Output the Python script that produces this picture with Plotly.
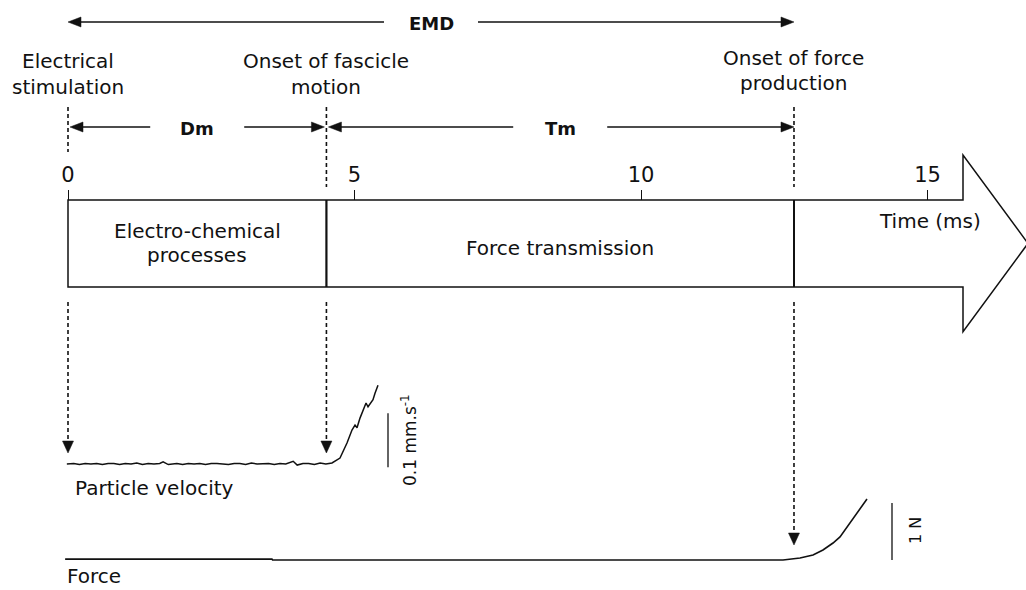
import plotly.graph_objects as go

# ------------------------------------------------------------------ data
event_names = [["Electrical", "stimulation"],
               ["Onset of fascicle", "motion"],
               ["Onset of force", "production"]]
event_times_ms = [0.0, 4.51, 12.67]          # stimulation, fascicle motion, force onset
interval_names = ["EMD", "Dm", "Tm"]
phase_names = [["Electro-chemical", "processes"], ["Force transmission"]]
tick_vals = [0, 5, 10, 15]
tick_text = ["0", "5", "10", "15"]
axis_title = "Time (ms)"

# particle velocity (mm/s) vs time (ms)
vel_time_ms = [-0.02, 0.1, 0.2, 0.3, 0.4, 0.5, 0.6, 0.7, 0.8, 0.9, 1.0, 1.1, 1.2,
               1.3, 1.4, 1.5, 1.6, 1.66, 1.75, 1.9, 2.0, 2.1, 2.2, 2.3, 2.4, 2.5,
               2.6, 2.7, 2.8, 2.9, 3.0, 3.1, 3.2, 3.3, 3.4, 3.5, 3.6, 3.7, 3.8,
               3.93, 4.0, 4.1, 4.2, 4.3, 4.4, 4.5, 4.607,
               4.747, 4.869, 4.956, 5.009, 5.044, 5.096, 5.148, 5.201, 5.236,
               5.305, 5.323, 5.358, 5.41]
vel_mm_s = [0.000, 0.001, -0.001, 0.001, 0.000, 0.001, -0.001, 0.001, 0.001,
            -0.001, 0.001, 0.000, 0.002, -0.001, 0.001, 0.000, 0.001, 0.004,
            -0.001, 0.001, -0.001, 0.001, 0.000, 0.001, -0.001, 0.001, 0.001,
            0.000, -0.001, 0.001, 0.001, -0.001, 0.002, 0.000, 0.001, 0.001,
            -0.001, 0.001, 0.000, 0.005, -0.002, 0.001, 0.001, -0.001, 0.002,
            0.000, 0.002,
            0.011, 0.039, 0.063, 0.072, 0.067, 0.085, 0.100, 0.113, 0.106,
            0.115, 0.119, 0.131, 0.146]
vel_label = "Particle velocity"
vel_scale_mm_s = 0.1
vel_scale_text = "0.1 mm.s<sup>-1</sup>"

# force (N) vs time (ms)
force_time_ms = [-0.05, 3.56, 3.57, 12.478, 12.775, 13.002, 13.176, 13.351,
                 13.473, 13.647, 13.787, 13.944]
force_N = [0.015, 0.015, 0.0, 0.0, 0.035, 0.088, 0.175, 0.298, 0.404, 0.649,
           0.842, 1.07]
force_label = "Force"
force_scale_N = 1.0
force_scale_text = "1 N"

# ------------------------------------------------------------------ layout helpers
W, H = 1026, 590
PX_PER_MS = 57.3
X0_PX = 68
FONT = "DejaVu Sans"
INK = "#111111"


def ms(px):
    """horizontal pixel offset -> ms"""
    return px / PX_PER_MS


def head(t, y, direction, length=12, half=5.5):
    if direction == "down":
        return (f"M {t - ms(half)},{y - length} L {t + ms(half)},{y - length} "
                f"L {t},{y} Z")
    if direction == "left":
        return (f"M {t + ms(length)},{y - half} L {t + ms(length)},{y + half} "
                f"L {t},{y} Z")
    return (f"M {t - ms(length)},{y - half} L {t - ms(length)},{y + half} "
            f"L {t},{y} Z")


shapes = []
annotations = []


def line(x0, y0, x1, y1, width=1.5, dash="solid", yref="y"):
    shapes.append(dict(type="line", xref="x", yref=yref, x0=x0, y0=y0, x1=x1,
                       y1=y1, line=dict(color=INK, width=width, dash=dash),
                       layer="above"))


def tri(path):
    shapes.append(dict(type="path", xref="x", yref="y", path=path,
                       fillcolor=INK, line=dict(color=INK, width=0.5),
                       layer="above"))


def text(x, y, s, size=20, bold=False, xanchor="center", angle=0, yref="y"):
    annotations.append(dict(x=x, y=y, xref="x", yref=yref, text=s,
                            showarrow=False, xanchor=xanchor, yanchor="middle",
                            textangle=angle,
                            font=dict(family=FONT, size=size, color=INK,
                                      weight="bold" if bold else "normal")))


t_stim, t_fasc, t_force = event_times_ms

# big time arrow (body + head)
body_end = ms(963 - X0_PX)
tip = ms(1028 - X0_PX)
shapes.append(dict(type="path", xref="x", yref="y",
                   path=(f"M {t_stim},200 L {body_end},200 L {body_end},155 "
                         f"L {tip},243.4 L {body_end},331.7 L {body_end},287 "
                         f"L {t_stim},287 Z"),
                   fillcolor="white", line=dict(color=INK, width=1.5),
                   layer="below"))
# phase separators inside the arrow
line(t_fasc, 200, t_fasc, 287, width=2.2)
line(t_force, 200, t_force, 287, width=2)

# dashed event markers above the arrow
line(t_stim, 107, t_stim, 152, dash="4px,3px", width=1.6)
line(t_fasc, 107, t_fasc, 187, dash="4px,3px", width=1.6)
line(t_force, 107, t_force, 187, dash="4px,3px", width=1.6)

# dashed arrows down to the traces
line(t_stim, 302, t_stim, 444, dash="4px,3px", width=1.6)
tri(head(t_stim, 453, "down"))
line(t_fasc, 302, t_fasc, 444, dash="4px,3px", width=1.6)
tri(head(t_fasc, 453, "down"))
line(t_force, 302, t_force, 536, dash="4px,3px", width=1.6)
tri(head(t_force, 545, "down"))

# interval arrows (EMD, Dm, Tm)
gap = ms(47)
intervals = [(t_stim, t_force, 22), (t_stim, t_fasc, 127), (t_fasc, t_force, 127)]
for name, (a, b, y) in zip(interval_names, intervals):
    mid = (a + b) / 2
    a_in = a + ms(2) if name != "EMD" else a
    b_in = b - ms(2) if name == "Dm" else b
    line(a_in + ms(10), y, mid - gap, y, width=1.6)
    line(mid + gap, y, b_in - ms(10), y, width=1.6)
    tri(head(a_in, y, "left", length=13, half=5))
    tri(head(b_in, y, "right", length=13, half=5))
    text(mid, y + 1, name, size=18, bold=True)

# event names
event_y = [(61, 87), (61, 87), (58, 83)]
for names, t, (y1, y2) in zip(event_names, event_times_ms, event_y):
    text(t, y1, names[0])
    text(t, y2, names[1])

# phase names
text(ms(197 - X0_PX), 231, phase_names[0][0])
text(ms(197 - X0_PX), 255, phase_names[0][1])
text((t_fasc + t_force) / 2, 248, phase_names[1][0])
text(ms(930 - X0_PX), 221, axis_title)

# traces labels
text(ms(73 - X0_PX), 488, vel_label, xanchor="left")
text(ms(65 - X0_PX), 576, force_label, xanchor="left")

# scale bars
vel_bar_t = ms(388 - X0_PX)
shapes.append(dict(type="line", xref="x", yref="y2", x0=vel_bar_t, x1=vel_bar_t,
                   y0=-0.006, y1=-0.006 + vel_scale_mm_s,
                   line=dict(color=INK, width=1.3)))
text(ms(409 - X0_PX), 440, vel_scale_text, size=17, angle=-90)
force_bar_t = ms(892 - X0_PX)
shapes.append(dict(type="line", xref="x", yref="y3", x0=force_bar_t,
                   x1=force_bar_t, y0=0, y1=force_scale_N,
                   line=dict(color=INK, width=1.3)))
text(ms(915 - X0_PX), 531, force_scale_text, size=16, angle=-90)

# ------------------------------------------------------------------ figure
fig = go.Figure()
fig.add_trace(go.Scatter(x=vel_time_ms, y=vel_mm_s, mode="lines", yaxis="y2",
                         line=dict(color=INK, width=1.5), hoverinfo="skip",
                         showlegend=False))
fig.add_trace(go.Scatter(x=force_time_ms, y=force_N, mode="lines", yaxis="y3",
                         line=dict(color=INK, width=1.6), hoverinfo="skip",
                         showlegend=False))

fig.update_layout(
    width=W, height=H,
    margin=dict(l=0, r=0, t=0, b=0),
    paper_bgcolor="white", plot_bgcolor="white",
    showlegend=False,
    xaxis=dict(range=[-X0_PX / PX_PER_MS, (W - X0_PX) / PX_PER_MS],
               anchor="free", position=1 - 200 / H, side="top",
               tickmode="array", tickvals=tick_vals, ticktext=tick_text,
               ticks="outside", ticklen=10, tickwidth=1, tickcolor=INK,
               tickfont=dict(family=FONT, size=21, color=INK),
               showline=False, showgrid=False, zeroline=False,
               fixedrange=True),
    yaxis=dict(range=[H, 0], visible=False, fixedrange=True),
    yaxis2=dict(range=[(464 - H) / 540, 464 / 540], overlaying="y",
                anchor="x", visible=False, fixedrange=True),
    yaxis3=dict(range=[(560 - H) / 57, 560 / 57], overlaying="y",
                anchor="x", visible=False, fixedrange=True),
    shapes=shapes,
    annotations=annotations,
)

fig.write_html("out.html", config={"displayModeBar": False},
               post_script="document.body.style.margin='0px';")
